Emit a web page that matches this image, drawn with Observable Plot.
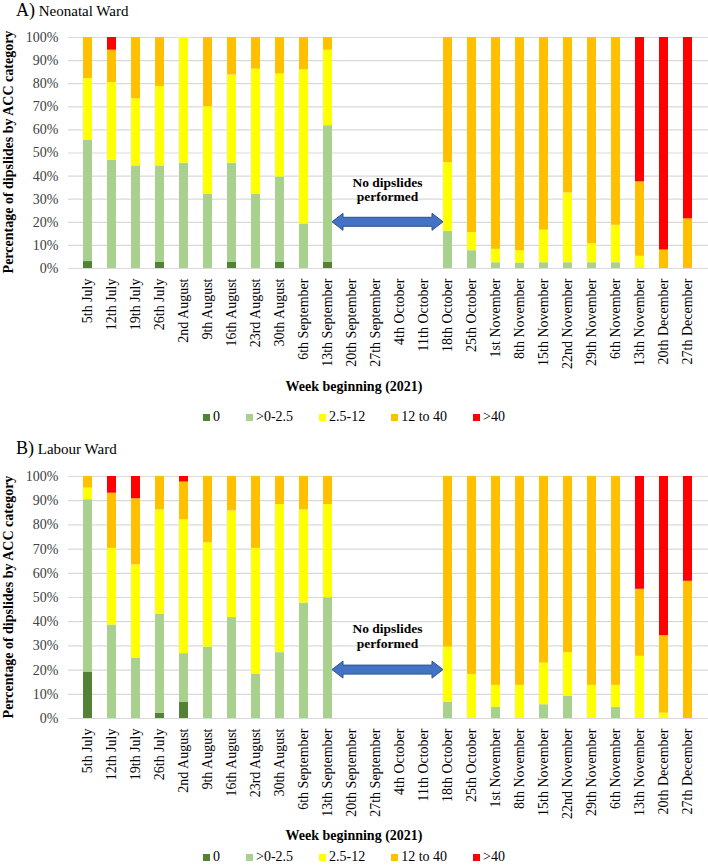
<!DOCTYPE html>
<html><head><meta charset="utf-8">
<script src="https://cdn.jsdelivr.net/npm/d3@7"></script>
<script src="https://cdn.jsdelivr.net/npm/@observablehq/plot@0.6"></script>
<style>
body{margin:0;background:#fff;}
#wrap{position:relative;width:708px;height:868px;font-family:"Liberation Serif","Times New Roman",serif;color:#000;overflow:hidden;background:#fff}
.abs{position:absolute}
.ptitle{left:16px;font-size:15px;white-space:nowrap;line-height:20px}
.ptitle .big{font-size:18px}
.ytitle{font-weight:bold;font-size:14px;transform:rotate(-90deg);transform-origin:center;white-space:nowrap;text-align:center;width:300px;height:18px;line-height:18px}
.xtitle{left:0;width:708px;text-align:center;font-weight:bold;font-size:14px;line-height:18px}
.legend{left:0;width:708px;display:flex;justify-content:center;gap:26px;font-size:14px;line-height:14px}
.legend .item{display:flex;align-items:center}
.legend i{display:inline-block;width:7px;height:7px;margin-right:3px}
svg{position:absolute;left:0}
</style></head>
<body>
<div id="wrap"></div>
<script>
// ---- data ----
const weeks = ["5th July","12th July","19th July","26th July","2nd August","9th August","16th August","23rd August","30th August","6th September","13th September","20th September","27th September","4th October","11th October","18th October","25th October","1st November","8th November","15th November","22nd November","29th November","6th November","13th November","20th December","27th December"];
const cats = ["0", ">0-2.5", "2.5-12", "12 to 40", ">40"];
const catColors = ["#548235", "#A9D18E", "#FFFF00", "#FFC000", "#FF0000"];

// Panel A: Neonatal Ward (% of dipslides per category, per week)
const neoCat0   = [3,0,0,2.6,0,0,2.6,0,2.6,0,2.7, 0,0,0,0, 0,0,0,0,0,0,0,0,0,0,0];
const neoCat1   = [52.6,46.8,44.4,41.8,45.6,32.2,43,32.2,37,19.3,59.1, 0,0,0,0, 16.1,7.7,2.5,2.4,2.5,2.5,2.5,2.5,0,0,0];
const neoCat2   = [26.6,33.7,29.1,34.4,54.4,37.8,38.2,54.1,44.6,66.7,32.7, 0,0,0,0, 29.7,7.8,5.8,5.3,14.1,30.2,8.2,16.2,5.3,0,0];
const neoCat3   = [17.8,14,26.5,21.2,0,30,16.2,13.7,15.8,14,5.5, 0,0,0,0, 54.2,84.5,91.7,92.3,83.4,67.3,89.3,81.3,32.2,8,21.5];
const neoCat4   = [0,5.5,0,0,0,0,0,0,0,0,0, 0,0,0,0, 0,0,0,0,0,0,0,0,62.5,92,78.5];

// Panel B: Labour Ward
const labCat0   = [19.2,0,0,2.2,6.6,0,0,0,0,0,0, 0,0,0,0, 0,0,0,0,0,0,0,0,0,0,0];
const labCat1   = [71.2,38.6,25,40.9,20.2,29.5,41.7,18.2,27.2,47.7,49.9, 0,0,0,0, 6.8,0,4.6,0,5.7,9.1,0,4.6,0,0,0];
const labCat2   = [4.8,31.7,38.5,43.1,55.3,43.1,44.1,52.1,61.2,38.5,38.5, 0,0,0,0, 22.7,18.2,9.1,13.7,17.2,18.1,13.7,9.1,25.7,2.2,0];
const labCat3   = [4.8,22.8,27.3,13.8,15.6,27.4,14.2,29.7,11.6,13.8,11.6, 0,0,0,0, 70.5,81.8,86.3,86.3,77.1,72.8,86.3,86.3,27.7,32,56.7];
const labCat4   = [0,6.9,9.2,0,2.3,0,0,0,0,0,0, 0,0,0,0, 0,0,0,0,0,0,0,0,46.6,65.8,43.3];

const yTicks = [0,10,20,30,40,50,60,70,80,90,100];
const gapStart = "13th September", gapEnd = "18th October";
const noteLines = ["No dipslides", "performed"];
const noteLevels = [37, 31];
const arrowLevel = 20;

// ---- layout helpers ----
const wrap = document.getElementById("wrap");
function addDiv(cls, top, html, extra) {
  const d = document.createElement("div");
  d.className = "abs " + cls;
  d.style.top = top + "px";
  if (extra) Object.assign(d.style, extra);
  d.innerHTML = html;
  wrap.appendChild(d);
  return d;
}

function gapArrow(index, scales) {
  const x = scales.x, y = scales.y;
  const bw = x.bandwidth();
  const x0 = x(gapStart) + bw, x1 = x(gapEnd);
  const yc = y(arrowLevel);
  const hh = 8.5, sh = 4.5, hl = 11;
  const g = d3.create("svg:g");
  g.append("path")
    .attr("d", `M${x0},${yc}L${x0+hl},${yc-hh}L${x0+hl},${yc-sh}L${x1-hl},${yc-sh}L${x1-hl},${yc-hh}L${x1},${yc}L${x1-hl},${yc+hh}L${x1-hl},${yc+sh}L${x0+hl},${yc+sh}L${x0+hl},${yc+hh}Z`)
    .attr("fill", "#4472C4").attr("stroke", "#2F528F").attr("stroke-width", 1);
  const xm = (x0 + x1) / 2;
  noteLines.forEach((t, i) => {
    g.append("text").attr("x", xm).attr("y", y(noteLevels[i]))
      .attr("text-anchor", "middle").attr("dy", "0.35em")
      .attr("font-weight", "bold").attr("font-size", 13.5)
      .attr("fill", "#000").text(t);
  });
  return g.node();
}

function makeChart(series, top, plotTop, plotH) {
  const rows = [];
  weeks.forEach((w, i) => cats.forEach((c, j) => {
    const v = series[j][i];
    if (v > 0) rows.push({week: w, cat: c, value: v});
  }));
  const mb = 105;
  const svg = Plot.plot({
    width: 708, height: plotTop + plotH + mb,
    marginTop: plotTop, marginBottom: mb, marginLeft: 68, marginRight: 0,
    style: {fontFamily: "'Liberation Serif', 'Times New Roman', serif", fontSize: "14px", background: "transparent", color: "#000", overflow: "visible"},
    x: {domain: weeks, paddingInner: 0.62, paddingOuter: 0.34, label: null},
    y: {domain: [0, 100], label: null},
    color: {domain: cats, range: catColors},
    marks: [
      Plot.gridY(yTicks, {stroke: "#d9d9d9", strokeOpacity: 1, strokeWidth: 1.2}),
      Plot.barY(rows, {x: "week", y: "value", fill: "cat", order: cats}),
      Plot.axisY(yTicks, {tickFormat: d => d + "%", tickSize: 0, tickPadding: 10, label: null, fill: "#404040"}),
      Plot.axisX({tickRotate: -90, tickSize: 0, tickPadding: 10, label: null, fill: "#000"}),
      gapArrow
    ]
  });
  svg.style.top = top + "px";
  wrap.appendChild(svg);
}

function legendHtml() {
  return cats.map((c, i) => `<span class="item"><i style="background:${catColors[i]}"></i>${c.replace(">", "&gt;")}</span>`).join("");
}

// Panel A
makeChart([neoCat0, neoCat1, neoCat2, neoCat3, neoCat4], 0, 37, 231);
addDiv("ptitle", 0, '<span class="big">A)</span> Neonatal Ward');
addDiv("ytitle", 143, "Percentage of dipslides by ACC category", {left: "-141px"});
addDiv("xtitle", 378, "Week beginning (2021)");
addDiv("legend", 410, legendHtml());

// Panel B
makeChart([labCat0, labCat1, labCat2, labCat3, labCat4], 440, 36, 242);
addDiv("ptitle", 438, '<span class="big">B)</span> Labour Ward');
addDiv("ytitle", 588, "Percentage of dipslides by ACC category", {left: "-141px"});
addDiv("xtitle", 827, "Week beginning (2021)");
addDiv("legend", 850, legendHtml());
</script>
</body></html>
